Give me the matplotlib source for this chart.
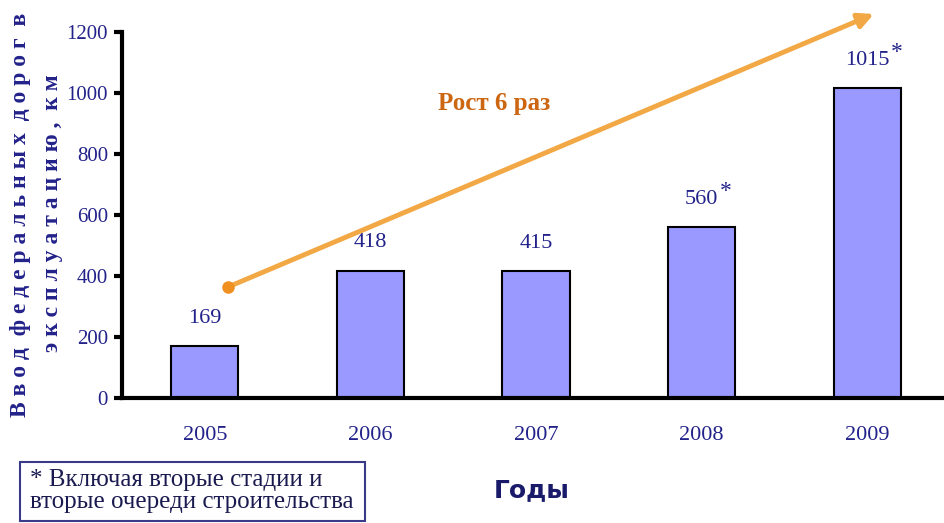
import matplotlib
matplotlib.use('Agg')
from matplotlib import pyplot as plt
from matplotlib.patches import Rectangle

years = ['2005', '2006', '2007', '2008', '2009']
km = [169, 418, 415, 560, 1015]
starred = [False, False, False, True, True]
yticks = [0, 200, 400, 600, 800, 1000, 1200]

navy = '#22228a'
serif = ['Liberation Serif', 'DejaVu Serif']

fig = plt.figure(figsize=(9.44, 5.23), dpi=100)
ax = fig.add_axes([122 / 944, 1 - 398 / 523, (950 - 122) / 944, (398 - 32) / 523])

x = list(range(len(years)))
ax.bar(x, km, width=0.405, color='#9999ff', edgecolor='black', linewidth=1.5, zorder=2)

ax.set_xlim(-0.5, 4.5)
ax.set_ylim(0, 1200)
ax.set_yticks(yticks)
ax.set_xticks(x)
ax.set_xticklabels(years)
for s in ['top', 'right']:
    ax.spines[s].set_visible(False)
for s in ['left', 'bottom']:
    ax.spines[s].set_linewidth(3)
ax.tick_params(axis='y', length=6, width=3, pad=4, labelsize=15, labelcolor=navy)
ax.tick_params(axis='x', length=0, pad=20, labelsize=16, labelcolor=navy)
for lab in ax.get_xticklabels() + ax.get_yticklabels():
    lab.set_family(serif)

# value labels
for xi, v, st in zip(x, km, starred):
    ax.annotate(str(v), (xi, v), xytext=(0, 13), textcoords='offset points',
                ha='center', va='bottom', fontsize=16, color=navy, family=serif)
    if st:
        off = 13 if v < 1000 else 17
        ax.annotate('*', (xi, v), xytext=(off, 18), textcoords='offset points',
                    ha='left', va='bottom', fontsize=17, color=navy, family=serif)

# growth arrow
ax.annotate('', xy=(4.04, 1259), xytext=(0.14, 364), annotation_clip=False,
            arrowprops=dict(arrowstyle='-|>,head_length=0.9,head_width=0.45',
                            color='#f2a844', lw=3.5, shrinkA=0, shrinkB=0))
ax.plot([0.14], [364], 'o', color='#f09020', markersize=8, clip_on=False, zorder=3)
ax.text(1.75, 964, 'Рост 6 раз', ha='center', va='center', fontsize=18,
        fontweight='bold', color='#cc6611', family=serif)

# y axis title, letter-spaced, two lines
line1 = '  '.join(' '.join(w) for w in 'Ввод федеральных дорог в'.split())
line2 = '  '.join(' '.join(w) for w in 'эксплуатацию, км'.split())
fig.text(21 / 944, 1 - 215 / 523, line1, rotation=90, ha='center', va='center',
         fontsize=17, fontweight='bold', color=navy, family=serif)
fig.text(53 / 944, 1 - 213 / 523, line2, rotation=90, ha='center', va='center',
         fontsize=17, fontweight='bold', color=navy, family=serif)

fig.text(532 / 944, 1 - 490 / 523, 'Годы', ha='center', va='center', fontsize=18,
         fontweight='bold', color='#1a1a6a', family=['Liberation Sans Narrow', 'DejaVu Sans'])

# footnote box
fig.patches.append(Rectangle((20 / 944, 1 - 521 / 523), 345 / 944, 59 / 523,
                             transform=fig.transFigure, fill=False,
                             edgecolor='#3a3a8a', linewidth=1.5))
fig.text(30 / 944, 1 - 491 / 523, '* Включая вторые стадии и\nвторые очереди строительства',
         ha='left', va='center', fontsize=18, color='#1a1a50', family=serif,
         linespacing=1.0)

fig.savefig('out.png', dpi=100)
